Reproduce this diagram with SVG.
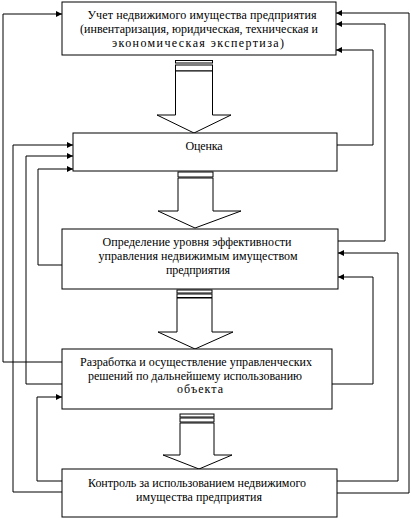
<svg xmlns="http://www.w3.org/2000/svg" width="411" height="530" viewBox="0 0 411 530">
<style>
.box{fill:#fff;stroke:#000;stroke-width:1}
.con{fill:none;stroke:#000;stroke-width:1}
.blk{fill:#fff;stroke:#000;stroke-width:1}
text{font-family:"Liberation Serif","Times New Roman",serif;font-size:12px;fill:#000;text-anchor:middle}
</style>
<defs>
<marker id="ah" markerWidth="6" markerHeight="6" refX="6" refY="3" orient="auto" markerUnits="userSpaceOnUse">
<path d="M0,0 L6,3 L0,6 Z" fill="#000"/>
</marker>
</defs>
<rect width="411" height="530" fill="#fff"/>
<g id="connectors">
<polyline class="con" points="62,362 3,362 3,14 62,14" marker-end="url(#ah)"/>
<polyline class="con" points="62,265 38,265 38,169 73,169" marker-end="url(#ah)"/>
<polyline class="con" points="62,384 26,384 26,156 73,156" marker-end="url(#ah)"/>
<polyline class="con" points="62,492 13,492 13,145 73,145" marker-end="url(#ah)"/>
<polyline class="con" points="62,481 37,481 37,397 62,397" marker-end="url(#ah)"/>
<polyline class="con" points="337,145 373,145 373,50 336,50" marker-end="url(#ah)"/>
<polyline class="con" points="338,241 385,241 385,24 336,24" marker-end="url(#ah)"/>
<polyline class="con" points="337,493 409,493 409,13 336,13" marker-end="url(#ah)"/>
<polyline class="con" points="332,384 373,384 373,277 338,277" marker-end="url(#ah)"/>
<polyline class="con" points="337,481 398,481 398,253 338,253" marker-end="url(#ah)"/>
</g>
<g id="arrow1">
<rect class="blk" x="175.5" y="60.5" width="37" height="2.5"/>
<rect class="blk" x="175.5" y="65" width="37" height="6"/>
<path class="blk" d="M175.5,71 L175.5,115 L157,115 L194,133 L231,115 L212.5,115 L212.5,71 Z"/>
</g>
<g id="arrow2">
<rect class="blk" x="178" y="172" width="35" height="5"/>
<path class="blk" d="M178,178 L178,211 L158,211 L195,228 L241,211 L213,211 L213,178 Z"/>
</g>
<g id="arrow3">
<rect class="blk" x="177" y="290" width="35" height="3"/>
<rect class="blk" x="177" y="294" width="35" height="3.5"/>
<path class="blk" d="M177,298 L177,332 L158,332 L195,349 L233,332 L212,332 L212,298 Z"/>
</g>
<g id="arrow4">
<rect class="blk" x="180" y="414" width="34" height="3"/>
<rect class="blk" x="180" y="418" width="34" height="4"/>
<path class="blk" d="M180,423 L180,455 L163,455 L199,469 L232,455 L214,455 L214,423 Z"/>
</g>
<g id="node1">
<rect class="box" x="62" y="2" width="274" height="53"/>
<text x="202" y="19" textLength="229" lengthAdjust="spacing">Учет недвижимого имущества предприятия</text>
<text x="199" y="33" textLength="238" lengthAdjust="spacing">(инвентаризация, юридическая,  техническая и</text>
<text x="198" y="47" textLength="172" lengthAdjust="spacing">экономическая экспертиза)</text>
</g>
<g id="node2">
<rect class="box" x="73" y="133" width="264" height="38"/>
<text x="204" y="150" textLength="37" lengthAdjust="spacing">Оценка</text>
</g>
<g id="node3">
<rect class="box" x="62" y="229" width="276" height="60"/>
<text x="197" y="246" textLength="189" lengthAdjust="spacing">Определение уровня эффективности</text>
<text x="198" y="260" textLength="199" lengthAdjust="spacing">управления недвижимым имуществом</text>
<text x="198" y="274" textLength="64" lengthAdjust="spacing">предприятия</text>
</g>
<g id="node4">
<rect class="box" x="62" y="349" width="270" height="60"/>
<text x="196" y="366" textLength="232" lengthAdjust="spacing">Разработка и осуществление управленческих</text>
<text x="195" y="380" textLength="214" lengthAdjust="spacing">решений по дальнейшему использованию</text>
<text x="200" y="393" textLength="46" lengthAdjust="spacing">объекта</text>
</g>
<g id="node5">
<rect class="box" x="62" y="469" width="275" height="48"/>
<text x="197" y="487" textLength="218" lengthAdjust="spacing">Контроль за использованием недвижимого</text>
<text x="199" y="501" textLength="126" lengthAdjust="spacing">имущества предприятия</text>
</g>
</svg>
